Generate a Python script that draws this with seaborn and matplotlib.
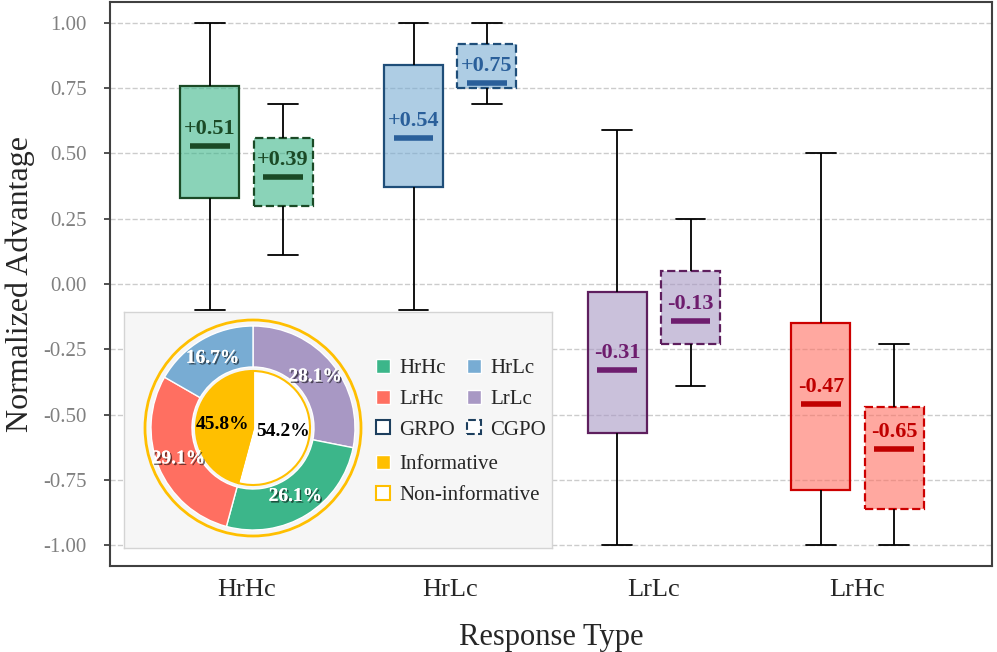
import numpy as np
import pandas as pd
import matplotlib.pyplot as plt
import matplotlib.patheffects as pe
from matplotlib.patches import Patch, Circle
from matplotlib.ticker import FormatStrFormatter
import seaborn as sns

# Categories and methods
types = ['HrHc', 'HrLc', 'LrLc', 'LrHc']
methods = ['GRPO', 'CGPO']

# Box summaries (whisker low, q1, centre bar, q3, whisker high)
grpo_low = [-0.10, -0.10, -1.00, -1.00]
grpo_q1 = [0.33, 0.37, -0.57, -0.79]
grpo_mid = [0.53, 0.56, -0.33, -0.46]
grpo_q3 = [0.76, 0.84, -0.03, -0.15]
grpo_high = [1.00, 1.00, 0.59, 0.50]

cgpo_low = [0.11, 0.69, -0.39, -1.00]
cgpo_q1 = [0.30, 0.75, -0.23, -0.86]
cgpo_mid = [0.41, 0.77, -0.14, -0.63]
cgpo_q3 = [0.56, 0.92, 0.05, -0.47]
cgpo_high = [0.69, 1.00, 0.25, -0.23]

# Mean values printed on the boxes
grpo_labels = ['+0.51', '+0.54', '-0.31', '-0.47']
cgpo_labels = ['+0.39', '+0.75', '-0.13', '-0.65']

# Inset donut
pie_types = ['LrLc', 'HrHc', 'LrHc', 'HrLc']
pie_share = [28.1, 26.1, 29.1, 16.7]
info_names = ['Non-informative', 'Informative']
info_share = [54.2, 45.8]

# colours
main_col = {'HrHc': '#3cb68a', 'HrLc': '#78acd3', 'LrLc': '#a898c4', 'LrHc': '#ff6f61'}
edge_col = {'HrHc': '#1b4a26', 'HrLc': '#1f4e79', 'LrLc': '#5e1f5e', 'LrHc': '#cc0000'}
text_col = {'HrHc': '#1b4a26', 'HrLc': '#2a5f9a', 'LrLc': '#6e1d6e', 'LrHc': '#c00000'}
gold = '#ffbf00'

sns.set_style('ticks')
plt.rcParams['font.family'] = ['Liberation Serif', 'DejaVu Serif']

# long table: one row per summary value, so seaborn computes the same box
rows = []
summaries = {
    'GRPO': (grpo_low, grpo_q1, grpo_mid, grpo_q3, grpo_high),
    'CGPO': (cgpo_low, cgpo_q1, cgpo_mid, cgpo_q3, cgpo_high),
}
offset = {'GRPO': -0.18, 'CGPO': 0.18}
for m in methods:
    for i, t in enumerate(types):
        for stat in summaries[m]:
            rows.append({'method': m, 'type': t, 'pos': i + offset[m], 'value': stat[i]})
df = pd.DataFrame(rows)

fig = plt.figure(figsize=(9.97, 6.52), dpi=100)
ax = fig.add_axes([110 / 997, 1 - 566 / 652, 882 / 997, 564 / 652])

for (m, t), g in df.groupby(['method', 'type'], sort=False):
    r, gg, b = plt.matplotlib.colors.to_rgb(main_col[t])
    sns.boxplot(data=g, x='pos', y='value', native_scale=True, width=0.29,
                whis=(0, 100), showfliers=False, ax=ax,
                boxprops=dict(facecolor=(r, gg, b, 0.6), edgecolor=edge_col[t],
                              linewidth=1.6, linestyle='-' if m == 'GRPO' else '--'),
                whiskerprops=dict(color='black', linewidth=1.3),
                capprops=dict(color='black', linewidth=1.3),
                medianprops=dict(linewidth=0))

# centre bars and value labels
for m, labels in [('GRPO', grpo_labels), ('CGPO', cgpo_labels)]:
    mids = summaries[m][2]
    for i, t in enumerate(types):
        x = i + offset[m]
        ax.hlines(mids[i], x - 0.098, x + 0.098, color=text_col[t], lw=4, zorder=4)
        ax.text(x, mids[i] + 0.065, labels[i], ha='center', va='center',
                fontsize=16, fontweight='bold', color=text_col[t], zorder=5)

ax.set_xlim(-0.67, 3.66)
ax.set_ylim(-1.08, 1.08)
ax.set_xticks(range(len(types)))
ax.set_xticklabels(types)
ax.set_yticks(np.arange(-1, 1.01, 0.25))
ax.yaxis.set_major_formatter(FormatStrFormatter('%.2f'))
ax.tick_params(axis='x', length=0, pad=9, labelsize=19)
ax.tick_params(axis='y', length=4, width=1.2, color='#333333', pad=13,
               labelsize=15, labelcolor='#808080')
ax.yaxis.grid(True, linestyle='--', color='#cccccc', lw=1)
ax.set_axisbelow(True)
for s in ax.spines.values():
    s.set_color('#404040')
    s.set_linewidth(1.5)
ax.set_xlabel('Response Type', fontsize=22, labelpad=16)
ax.set_ylabel('Normalized Advantage', fontsize=23, labelpad=6)

# inset with donut chart and legend (axes units are pixels)
ins = fig.add_axes([124 / 997, 1 - 548 / 652, 428 / 997, 236 / 652], zorder=5)
ins.set_facecolor('#f6f6f6')
for s in ins.spines.values():
    s.set_color('#d4d4d4')
    s.set_linewidth(1)
centre = (129, 120)

wedges, _, autotexts = ins.pie(
    pie_share, colors=[main_col[t] for t in pie_types], startangle=90,
    counterclock=False, radius=102, center=centre, frame=True,
    wedgeprops=dict(width=41, edgecolor='white', linewidth=1),
    autopct='%.1f%%', pctdistance=0.79,
    textprops=dict(color='white', fontsize=14, fontweight='bold'))
for txt in autotexts:
    txt.set_path_effects([pe.withSimplePatchShadow(offset=(1.2, -1.2), shadow_rgbFace='black', alpha=0.55),
                          pe.Normal()])

ins.pie(info_share, colors=['white', gold], startangle=90, counterclock=False,
        radius=57, center=centre, frame=True,
        wedgeprops=dict(edgecolor=gold, linewidth=1.5),
        autopct='%.1f%%', pctdistance=0.53,
        textprops=dict(color='black', fontsize=14, fontweight='bold'))
ins.add_patch(Circle(centre, 108, fill=False, edgecolor=gold, lw=2))

ins.set_xlim(0, 428)
ins.set_ylim(0, 236)
ins.set_xticks([])
ins.set_yticks([])

h1 = [Patch(facecolor=main_col['HrHc'], label='HrHc'),
      Patch(facecolor=main_col['LrHc'], label='LrHc'),
      Patch(facecolor='white', edgecolor='#1d3f5e', lw=1.5, label='GRPO'),
      Patch(facecolor=main_col['HrLc'], label='HrLc'),
      Patch(facecolor=main_col['LrLc'], label='LrLc'),
      Patch(facecolor='white', edgecolor='#1d3f5e', lw=1.5, ls='--', label='CGPO')]
leg_kw = dict(frameon=False, fontsize=15, handlelength=0.65, handleheight=0.65,
              handletextpad=0.45, labelspacing=0.55, borderpad=0, borderaxespad=0,
              loc='upper left', bbox_transform=ins.transData)
leg1 = ins.legend(handles=h1, ncol=2, columnspacing=0.6, bbox_to_anchor=(252, 189), **leg_kw)
ins.add_artist(leg1)
h2 = [Patch(facecolor=gold, label=info_names[1]),
      Patch(facecolor='white', edgecolor=gold, lw=1.5, label=info_names[0])]
ins.legend(handles=h2, bbox_to_anchor=(252, 93), **leg_kw)

fig.savefig('out.png', dpi=100)
